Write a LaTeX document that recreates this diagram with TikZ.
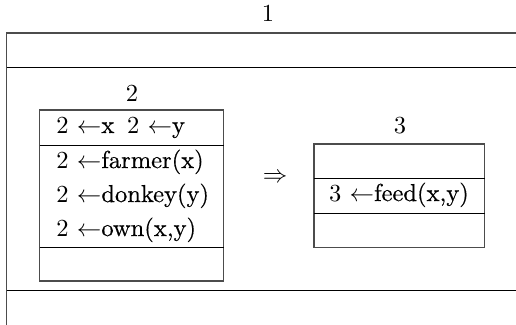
\documentclass[tikz,border=0pt]{standalone}
\usepackage{fontspec}
\setmainfont{Latin Modern Roman}
\newfontfamily\heavy{Latin Modern Roman}[FakeBold=0.5]
\newcommand{\term}[1]{{\heavy #1}}
\begin{document}
\begin{tikzpicture}[x=0.408pt,y=-0.408pt,
  frame/.style={draw=black!70,line width=0.45pt},
  divider/.style={draw=black,line width=0.4pt},
  cond/.style={anchor=base west,inner sep=0pt},
  lbl/.style={anchor=base,inner sep=0pt}]
\useasboundingbox (0,0) rectangle (516,324);
\begin{scope}
\clip (0,0) rectangle (516,324);
% outer box, running off the right and bottom edges
\draw[frame] (6.5,340) -- (6.5,33) -- (530,33);
\draw[divider] (6.5,67) -- (530,67);
\draw[divider] (6.5,290) -- (530,290);
\end{scope}
\node[lbl] (l1) at (268,21) {1};

% box 2: universe, conditions, empty bottom row
\node[lbl] (l2) at (132,101) {2};
\draw[frame] (39.5,110) rectangle (223.5,281);
\draw[divider] (39.5,145) -- (223.5,145);
\draw[divider] (39.5,247) -- (223.5,247);
\node[cond] (u1) at (56,133) {2 $\leftarrow$\term{x}\hspace{5.2pt}2 $\leftarrow$\term{y}};
\node[cond] (c1) at (56,168) {2 $\leftarrow$\term{farmer(x)}};
\node[cond] (c2) at (56,202) {2 $\leftarrow$\term{donkey(y)}};
\node[cond] (c3) at (56,236) {2 $\leftarrow$\term{own(x,y)}};

% implication
\node[inner sep=0pt] (imp) at (275,178) {$\Rightarrow$};

% box 3
\node[lbl] (l3) at (400,133) {3};
\draw[frame] (314,144) rectangle (484.5,247.5);
\draw[divider] (314,178.5) -- (484.5,178.5);
\draw[divider] (314,213) -- (484.5,213);
\node[lbl] (c4) at (399,201) {3 $\leftarrow$\term{feed(x,y)}};
\end{tikzpicture}
\end{document}
